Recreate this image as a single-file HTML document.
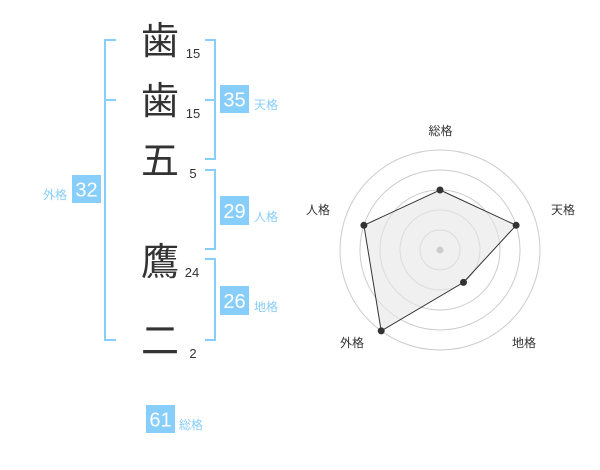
<!DOCTYPE html>
<html>
<head>
<meta charset="utf-8">
<style>
  html, body { margin: 0; padding: 0; background: #ffffff; }
  body { width: 600px; height: 470px; overflow: hidden; }
  svg { display: block; }
  .cj { font-family: "Liberation Sans", "Noto Sans CJK JP", sans-serif; }
</style>
</head>
<body>
<svg width="600" height="470" viewBox="0 0 600 470" xmlns="http://www.w3.org/2000/svg" class="cj">
  <!-- Left bracket (外格) -->
  <g stroke="#87CEFA" stroke-width="2" fill="none">
    <polyline points="116,40 105,40 105,340 116,340"/>
    <line x1="105" y1="100" x2="116" y2="100"/>
    <!-- 天格 bracket -->
    <polyline points="205,40 215,40 215,159 205,159"/>
    <line x1="205" y1="100" x2="215" y2="100"/>
    <!-- 人格 bracket -->
    <polyline points="205,170 215,170 215,249 205,249"/>
    <!-- 地格 bracket -->
    <polyline points="205,259 215,259 215,340 205,340"/>
  </g>

  <!-- Characters -->
  <g fill="#333333" font-size="38" text-anchor="middle">
    <text x="160" y="54">歯</text>
    <text x="160" y="114">歯</text>
    <text x="160" y="174">五</text>
    <text x="160" y="275">鷹</text>
    <text x="160" y="354">二</text>
  </g>

  <!-- Stroke counts -->
  <g fill="#333333" font-size="13" text-anchor="middle">
    <text x="193" y="58">15</text>
    <text x="193" y="118">15</text>
    <text x="193" y="178">5</text>
    <text x="192" y="277">24</text>
    <text x="193" y="358">2</text>
  </g>

  <!-- Boxes -->
  <g fill="#87CEFA">
    <rect x="220" y="85" width="29" height="28"/>
    <rect x="220" y="196" width="29" height="29"/>
    <rect x="220" y="286" width="29" height="29"/>
    <rect x="72" y="175" width="29" height="28"/>
    <rect x="146" y="405" width="29" height="28"/>
  </g>
  <g fill="#ffffff" font-size="20" text-anchor="middle">
    <text x="234.5" y="106.5">35</text>
    <text x="234.5" y="218">29</text>
    <text x="234.5" y="308">26</text>
    <text x="86.5" y="196.5">32</text>
    <text x="160.5" y="426.5">61</text>
  </g>
  <g fill="#87CEFA" font-size="12">
    <text x="254" y="109">天格</text>
    <text x="254" y="221">人格</text>
    <text x="254" y="311">地格</text>
    <text x="67" y="199" text-anchor="end">外格</text>
    <text x="179" y="429">総格</text>
  </g>

  <!-- Radar chart -->
  <g fill="none" stroke="#cccccc" stroke-width="1">
    <circle cx="440" cy="250" r="20"/>
    <circle cx="440" cy="250" r="40"/>
    <circle cx="440" cy="250" r="60"/>
    <circle cx="440" cy="250" r="80"/>
    <circle cx="440" cy="250" r="100"/>
  </g>
  <polygon points="440,190 516.1,225.3 463.5,282.4 381.2,330.9 363.9,225.3"
           fill="#e6e6e6" fill-opacity="0.6" stroke="#333333" stroke-width="1"/>
  <circle cx="440" cy="250" r="3.5" fill="#cccccc"/>
  <g fill="#333333">
    <circle cx="440" cy="190" r="3.5"/>
    <circle cx="516.1" cy="225.3" r="3.5"/>
    <circle cx="463.5" cy="282.4" r="3.5"/>
    <circle cx="381.2" cy="330.9" r="3.5"/>
    <circle cx="363.9" cy="225.3" r="3.5"/>
  </g>
  <g fill="#333333" font-size="12" text-anchor="middle">
    <text x="440.5" y="135">総格</text>
    <text x="563" y="214">天格</text>
    <text x="318" y="214">人格</text>
    <text x="352" y="347">外格</text>
    <text x="524" y="347">地格</text>
  </g>
</svg>
</body>
</html>
